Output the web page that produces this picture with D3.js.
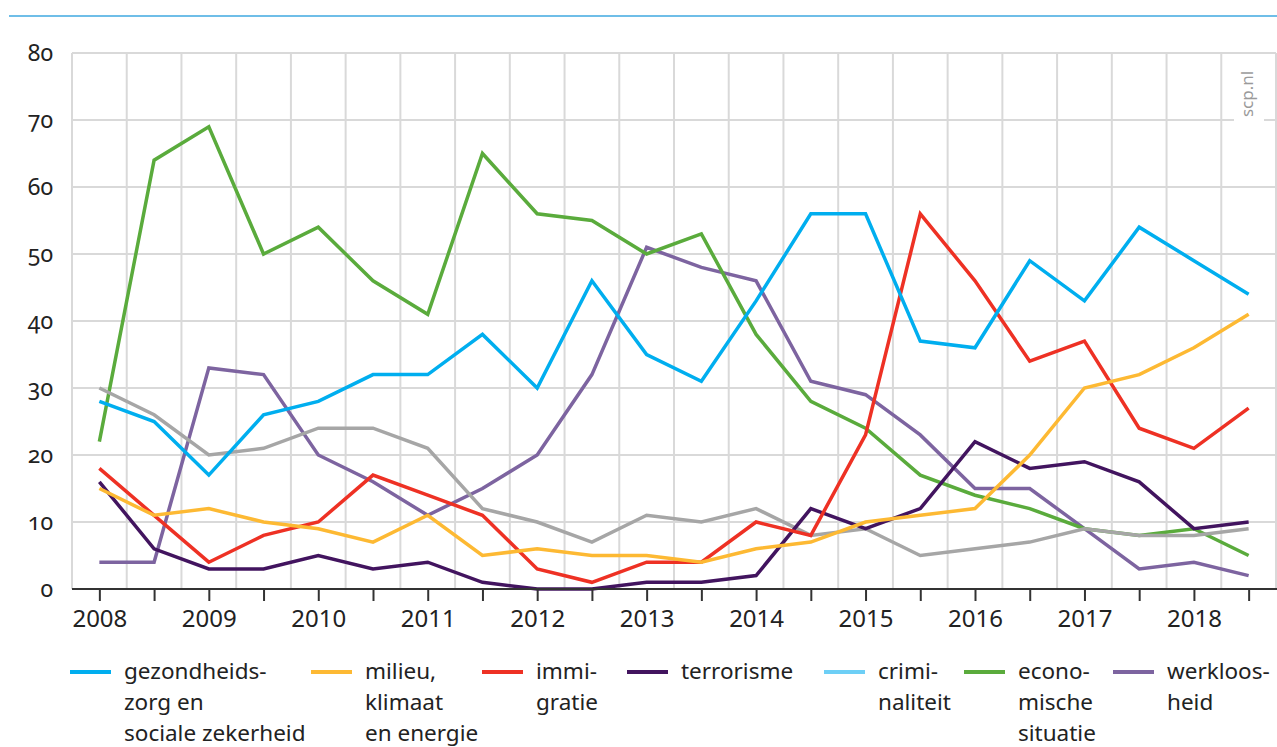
<!DOCTYPE html>
<html>
<head>
<meta charset="utf-8">
<script src="https://cdn.jsdelivr.net/npm/d3@7"></script>
<style>
  html, body { margin: 0; padding: 0; background: #fff; }
  svg { display: block; font-family: "Noto Sans", "Open Sans", sans-serif; }
</style>
</head>
<body>
<svg id="chart" width="1277" height="747"></svg>
<script>
// ---- data ----
const periods = ["2008-1","2008-2","2009-1","2009-2","2010-1","2010-2","2011-1","2011-2",
  "2012-1","2012-2","2013-1","2013-2","2014-1","2014-2","2015-1","2015-2",
  "2016-1","2016-2","2017-1","2017-2","2018-1","2018-2"];
const tickLabels = ["2008","","2009","","2010","","2011","","2012","","2013","",
  "2014","","2015","","2016","","2017","","2018",""];
const yTicks = [0,10,20,30,40,50,60,70,80];

const gezondheidszorg = [28,25,17,26,28,32,32,38,30,46,35,31,43,56,56,37,36,49,43,54,49,44];
const milieu          = [15,11,12,10,9,7,11,5,6,5,5,4,6,7,10,11,12,20,30,32,36,41];
const immigratie      = [18,11,4,8,10,17,14,11,3,1,4,4,10,8,23,56,46,34,37,24,21,27];
const terrorisme      = [16,6,3,3,5,3,4,1,0,0,1,1,2,12,9,12,22,18,19,16,9,10];
const criminaliteit   = [30,26,20,21,24,24,21,12,10,7,11,10,12,8,9,5,6,7,9,8,8,9];
const economie        = [22,64,69,50,54,46,41,65,56,55,50,53,38,28,24,17,14,12,9,8,9,5];
const werkloosheid    = [4,4,33,32,20,16,11,15,20,32,51,48,46,31,29,23,15,15,9,3,4,2];

const seriesNames = ["gezondheidszorg","milieu","immigratie","terrorisme","criminaliteit","economie","werkloosheid"];
const seriesValues = [gezondheidszorg, milieu, immigratie, terrorisme, criminaliteit, economie, werkloosheid];
const lineColors = ["#00aeef","#fdb933","#ee3124","#42145f","#a6a6a6","#5aab3c","#7d64a0"];
const legendColors = ["#00aeef","#fdb933","#ee3124","#42145f","#6dcff6","#5aab3c","#7d64a0"];
const legendLabels = [
  ["gezondheids-","zorg en","sociale zekerheid"],
  ["milieu,","klimaat","en energie"],
  ["immi-","gratie"],
  ["terrorisme"],
  ["crimi-","naliteit"],
  ["econo-","mische","situatie"],
  ["werkloos-","heid"]
];
const drawOrder = ["werkloosheid","economie","criminaliteit","terrorisme","immigratie","milieu","gezondheidszorg"];

(function () {
// ---- layout ----
const W = 1277, H = 747;
const pLeft = 72, pRight = 1276, pTop = 53, pBottom = 589;
const legendX = [70, 311, 482, 627, 824, 964, 1113];

const svg = d3.select("#chart");
svg.append("rect").attr("width", W).attr("height", H).attr("fill", "#fff");

// top rule
svg.append("line").attr("x1", 9).attr("x2", W).attr("y1", 16).attr("y2", 16)
  .attr("stroke", "#3fa9e0").attr("stroke-width", 1.5);

const x = d3.scalePoint().domain(periods).range([pLeft, pRight]).padding(0.5);
const y = d3.scaleLinear().domain([0, 80]).range([pBottom, pTop]);
const step = x.step();

// grid
const grid = svg.append("g").attr("stroke", "#d9d9d9").attr("stroke-width", 2);
yTicks.filter(v => v > 0).forEach(v => {
  grid.append("line").attr("x1", pLeft).attr("x2", pRight).attr("y1", y(v)).attr("y2", y(v));
});
const vlines = periods.map(p => x(p) - step / 2).concat([x(periods[periods.length - 1]) + step / 2]);
vlines.forEach(vx => {
  grid.append("line").attr("x1", vx).attr("x2", vx).attr("y1", pTop).attr("y2", pBottom);
});

// scp.nl watermark
svg.append("rect").attr("x", 1234).attr("y", 64).attr("width", 30).attr("height", 60).attr("fill", "#fff");
svg.append("text").attr("transform", "translate(1253,94) rotate(-90)")
  .attr("text-anchor", "middle").attr("font-size", 17).attr("fill", "#9a9a9a").text("scp.nl");

// y axis labels
const yAxis = d3.axisLeft(y).tickValues(yTicks).tickSize(0).tickPadding(0).tickFormat(d3.format("d"));
const gy = svg.append("g").attr("transform", "translate(53,0)").call(yAxis);
gy.select(".domain").remove();
gy.selectAll("text").attr("font-size", 23).attr("fill", "#222")
  .attr("font-family", "'Noto Sans', sans-serif")
  .style("font-feature-settings", "'onum' 1").style("font-variant-numeric", "oldstyle-nums");

// lines
const line = d3.line().x((d, i) => x(periods[i])).y(d => y(d));
drawOrder.forEach(name => {
  const idx = seriesNames.indexOf(name);
  svg.append("path").datum(seriesValues[idx]).attr("d", line)
    .attr("fill", "none").attr("stroke", lineColors[idx]).attr("stroke-width", 3.5)
    .attr("stroke-linejoin", "miter").attr("stroke-linecap", "butt");
});

// x axis
const xAxis = d3.axisBottom(x).tickSizeInner(12).tickSizeOuter(0).tickPadding(9)
  .tickFormat((d, i) => tickLabels[i]);
const gx = svg.append("g").attr("transform", `translate(0,${pBottom})`).call(xAxis);
gx.select(".domain").attr("stroke", "#333").attr("stroke-width", 2)
  .attr("d", `M${pLeft},0H${pRight + 1}`);
gx.selectAll(".tick line").attr("stroke", "#333").attr("stroke-width", 2);
gx.selectAll("text").attr("font-size", 24).attr("fill", "#222")
  .attr("font-family", "'Noto Sans', sans-serif");

// legend
const leg = svg.append("g");
legendLabels.forEach((lines, i) => {
  const g = leg.append("g").attr("transform", `translate(${legendX[i]},672)`);
  g.append("line").attr("x1", 0).attr("x2", 41).attr("y1", 0).attr("y2", 0)
    .attr("stroke", legendColors[i]).attr("stroke-width", 4);
  const t = g.append("text").attr("x", 54).attr("y", 7).attr("font-size", 22.5).attr("fill", "#222");
  lines.forEach((s, j) => {
    t.append("tspan").attr("x", 54).attr("dy", j === 0 ? 0 : 31).text(s);
  });
});
})();
</script>
</body>
</html>
